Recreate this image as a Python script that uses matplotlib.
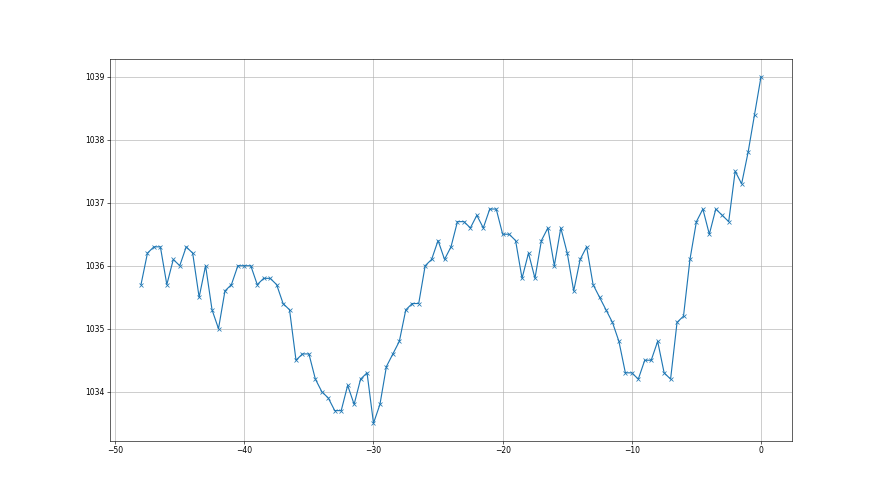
import numpy as np
import matplotlib
matplotlib.use("Agg")
import matplotlib.pyplot as plt

# hours relative to now, 0.5 h steps
hours = np.arange(-48, 0.01, 0.5)

pressure = [
    1035.7, 1036.2, 1036.3, 1036.3, 1035.7, 1036.1, 1036.0, 1036.3, 1036.2, 1035.5,
    1036.0, 1035.3, 1035.0, 1035.6, 1035.7, 1036.0, 1036.0, 1036.0, 1035.7, 1035.8,
    1035.8, 1035.7, 1035.4, 1035.3, 1034.5, 1034.6, 1034.6, 1034.2, 1034.0, 1033.9,
    1033.7, 1033.7, 1034.1, 1033.8, 1034.2, 1034.3, 1033.5, 1033.8, 1034.4, 1034.6,
    1034.8, 1035.3, 1035.4, 1035.4, 1036.0, 1036.1, 1036.4, 1036.1, 1036.3, 1036.7,
    1036.7, 1036.6, 1036.8, 1036.6, 1036.9, 1036.9, 1036.5, 1036.5, 1036.4, 1035.8,
    1036.2, 1035.8, 1036.4, 1036.6, 1036.0, 1036.6, 1036.2, 1035.6, 1036.1, 1036.3,
    1035.7, 1035.5, 1035.3, 1035.1, 1034.8, 1034.3, 1034.3, 1034.2, 1034.5, 1034.5,
    1034.8, 1034.3, 1034.2, 1035.1, 1035.2, 1036.1, 1036.7, 1036.9, 1036.5, 1036.9,
    1036.8, 1036.7, 1037.5, 1037.3, 1037.8, 1038.4, 1039.0,
]

fig, ax = plt.subplots(figsize=(16, 9), dpi=55)
ax.plot(hours, pressure, marker="x", color="#1f77b4")
ax.grid(True)
ax.ticklabel_format(axis="y", useOffset=False)
fig.savefig("out.png", dpi=55)
plt.close(fig)
